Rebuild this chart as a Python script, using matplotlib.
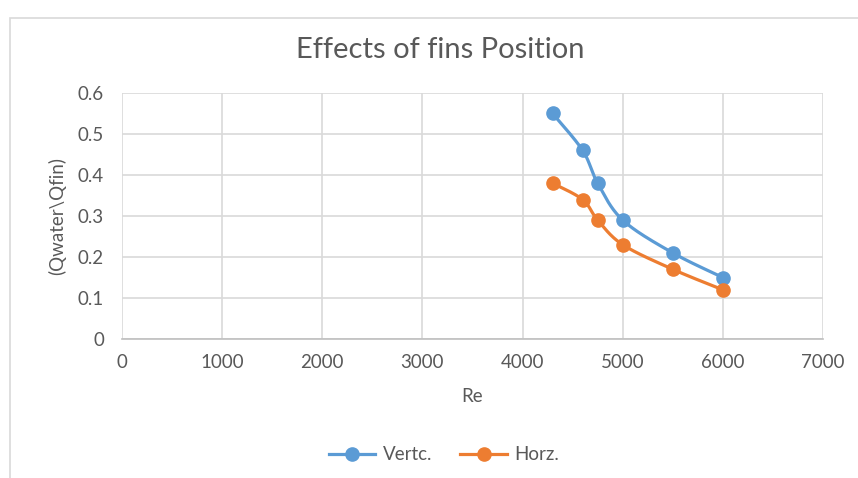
import numpy as np
import matplotlib.pyplot as plt
from matplotlib.patches import Rectangle
from matplotlib.lines import Line2D

# ---------------- Data ----------------
re_vals = [4300, 4600, 4750, 5000, 5500, 6000]
vertc = [0.55, 0.46, 0.38, 0.29, 0.21, 0.15]
horz = [0.38, 0.34, 0.29, 0.23, 0.17, 0.12]

x_ticks = [0, 1000, 2000, 3000, 4000, 5000, 6000, 7000]
y_ticks = [0, 0.1, 0.2, 0.3, 0.4, 0.5, 0.6]
y_labels = ["0", "0.1", "0.2", "0.3", "0.4", "0.5", "0.6"]

blue = "#5B9BD5"
orange = "#ED7D31"
txt = "#595959"
grid_c = "#D9D9D9"

plt.rcParams["font.family"] = ["Lato", "DejaVu Sans"]


def smooth(x, y, n=40):
    # Excel-like smoothed line (Catmull-Rom style cubic Bezier)
    p = np.column_stack([x, y]).astype(float)
    p = np.vstack([p[0], p, p[-1]])
    out = []
    t = np.linspace(0, 1, n)[:, None]
    for i in range(1, len(p) - 2):
        p0, p3 = p[i], p[i + 1]
        c1 = p0 + (p[i + 1] - p[i - 1]) / 6
        c2 = p3 - (p[i + 2] - p[i]) / 6
        seg = (1 - t) ** 3 * p0 + 3 * (1 - t) ** 2 * t * c1 + 3 * (1 - t) * t ** 2 * c2 + t ** 3 * p3
        out.append(seg if i == 1 else seg[1:])
    out = np.vstack(out)
    return out[:, 0], out[:, 1]


# ---------------- Figure ----------------
fig = plt.figure(figsize=(8.58, 4.78), dpi=100)
W, H = 858, 478
ax = fig.add_axes([122 / W, 1 - 339 / H, 701 / W, 246 / H])

# outer chart frame (cropped at right and bottom)
fig.patches.append(Rectangle((10 / W, -0.1), 1.2, 1 - 18 / H + 0.1, transform=fig.transFigure,
                             fill=False, edgecolor="#D9D9D9", linewidth=1.2))

for ys, col in [(vertc, blue), (horz, orange)]:
    sx, sy = smooth(re_vals, ys)
    ax.plot(sx, sy, color=col, linewidth=2.3, solid_capstyle="round", zorder=3)
    ax.plot(re_vals, ys, "o", color=col, markersize=9.5, zorder=4)

ax.set_xlim(0, 7000)
ax.set_ylim(0, 0.6)
ax.set_xticks(x_ticks)
ax.set_yticks(y_ticks)
ax.set_yticklabels(y_labels)
ax.grid(True, color=grid_c, linewidth=1.2)
ax.set_axisbelow(True)
for s in ["top", "right", "left"]:
    ax.spines[s].set_visible(False)
ax.spines["bottom"].set_color("#BFBFBF")
ax.spines["bottom"].set_linewidth(1.2)
ax.tick_params(length=0, colors=txt, labelsize=13.5)
ax.tick_params(axis="x", pad=11)
ax.tick_params(axis="y", pad=13)

ax.set_xlabel("Re", color=txt, fontsize=13.5, labelpad=12)
ax.set_ylabel("(Qwater\\Qfin)", color=txt, fontsize=13.5, labelpad=8)
fig.text(440 / W, 1 - 50 / H, "Effects of fins Position", ha="center", va="center",
         fontsize=21, color=txt)

handles = [Line2D([], [], color=blue, marker="o", linewidth=2.3, markersize=9.5),
           Line2D([], [], color=orange, marker="o", linewidth=2.3, markersize=9.5)]
fig.legend(handles, ["Vertc.", "Horz."], loc="center", bbox_to_anchor=(444 / W, 1 - 455 / H),
           ncol=2, frameon=False, fontsize=13.5, labelcolor=txt, handlelength=2.5,
           columnspacing=1.5, handletextpad=0.4)

fig.savefig("out.png", dpi=100)
